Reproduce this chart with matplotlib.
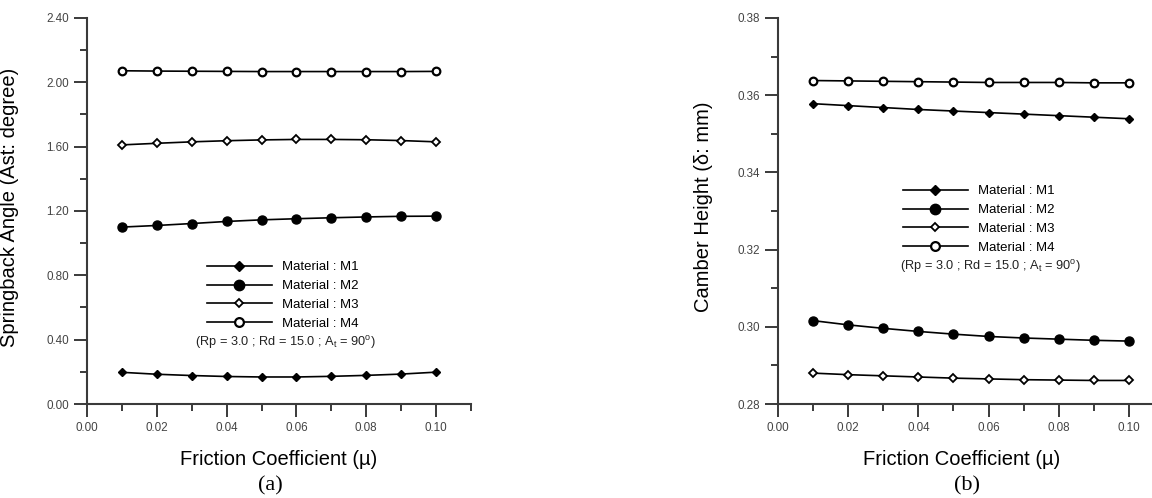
import matplotlib
matplotlib.use("Agg")
import matplotlib.pyplot as plt
from matplotlib.ticker import MultipleLocator, FormatStrFormatter

plt.rcParams['font.family'] = ['Liberation Sans', 'DejaVu Sans']
plt.rcParams['mathtext.fontset'] = 'custom'
plt.rcParams['mathtext.rm'] = 'Liberation Sans'
plt.rcParams['mathtext.it'] = 'Liberation Sans:italic'

# friction coefficient
mu = [0.01, 0.02, 0.03, 0.04, 0.05, 0.06, 0.07, 0.08, 0.09, 0.10]

# (a) springback angle (degree)
spring_m1 = [0.197, 0.185, 0.177, 0.171, 0.168, 0.168, 0.172, 0.178, 0.186, 0.198]
spring_m2 = [1.100, 1.110, 1.122, 1.135, 1.145, 1.152, 1.158, 1.163, 1.167, 1.168]
spring_m3 = [1.611, 1.621, 1.630, 1.637, 1.642, 1.645, 1.645, 1.643, 1.638, 1.630]
spring_m4 = [2.072, 2.070, 2.069, 2.068, 2.067, 2.067, 2.067, 2.067, 2.067, 2.068]

# (b) camber height (mm)
camber_m1 = [0.3578, 0.3573, 0.3568, 0.3563, 0.3559, 0.3555, 0.3551, 0.3547, 0.3543, 0.3539]
camber_m2 = [0.3016, 0.3005, 0.2996, 0.2988, 0.2981, 0.2975, 0.2971, 0.2968, 0.2965, 0.2963]
camber_m3 = [0.2880, 0.2876, 0.2873, 0.2870, 0.2867, 0.2865, 0.2863, 0.2862, 0.2861, 0.2861]
camber_m4 = [0.3638, 0.3637, 0.3636, 0.3635, 0.3634, 0.3633, 0.3633, 0.3633, 0.3632, 0.3632]

labels = ["Material : M1", "Material : M2", "Material : M3", "Material : M4"]
note = r"(Rp = 3.0 ; Rd = 15.0 ; A$_\mathrm{t}$ = 90$^\mathrm{o}$)"

# marker styles for M1..M4
styles = [
    dict(marker="D", markersize=4.5, markerfacecolor="black", markeredgecolor="black"),
    dict(marker="o", markersize=6.5, markerfacecolor="black", markeredgecolor="black"),
    dict(marker="D", markersize=3.8, markerfacecolor="white", markeredgecolor="black", markeredgewidth=1.3),
    dict(marker="o", markersize=5.5, markerfacecolor="white", markeredgecolor="black", markeredgewidth=1.6),
]

axcol = "#3a3a3a"


def style_axis(ax, ymajor, yfmt):
    for s in ["top", "right"]:
        ax.spines[s].set_visible(False)
    for s in ["left", "bottom"]:
        ax.spines[s].set_linewidth(1.5)
        ax.spines[s].set_color(axcol)
    ax.xaxis.set_major_locator(MultipleLocator(0.02))
    ax.xaxis.set_minor_locator(MultipleLocator(0.01))
    ax.xaxis.set_major_formatter(FormatStrFormatter("%.2f"))
    ax.yaxis.set_major_locator(MultipleLocator(ymajor))
    ax.yaxis.set_minor_locator(MultipleLocator(ymajor / 2))
    ax.yaxis.set_major_formatter(FormatStrFormatter(yfmt))
    ax.tick_params(which="major", length=9.5, width=1.4, color=axcol, labelsize=8.4,
                   labelcolor="#444444", pad=3.5)
    ax.tick_params(which="minor", length=5, width=1.4, color=axcol)


fig = plt.figure(figsize=(11.52, 4.98), dpi=100)

# ---- (a) springback angle
ax1 = fig.add_axes([87 / 1152, 1 - 404 / 498, 384 / 1152, 386 / 498])
for y, st, lab in zip([spring_m1, spring_m2, spring_m3, spring_m4], styles, labels):
    ax1.plot(mu, y, color="black", linewidth=1.2, label=lab, **st)
ax1.set_xlim(0, 0.11)
ax1.set_ylim(0, 2.4)
style_axis(ax1, 0.4, "%.2f")
ax1.set_xlabel("Friction Coefficient (\u00b5)", size=14.5)
ax1.xaxis.set_label_coords(0.5, -0.12)
ax1.set_ylabel("Springback Angle (Ast: degree)", size=14.5)
ax1.yaxis.set_label_coords(-0.178, 0.51)
ax1.legend(loc="upper left", bbox_to_anchor=(0.3125, 0.370), frameon=False, fontsize=9.5,
           handlelength=4.9, handletextpad=0.8, labelspacing=0.5, borderpad=0,
           borderaxespad=0, markerscale=1.15)
ax1.text(0.516, 0.16, note, transform=ax1.transAxes, ha="center", va="center", fontsize=9.2,
         color="#222222")

# ---- (b) camber height
ax2 = fig.add_axes([778 / 1152, 1 - 404 / 498, 374 / 1152, 386 / 498])
for y, st, lab in zip([camber_m1, camber_m2, camber_m3, camber_m4], styles, labels):
    ax2.plot(mu, y, color="black", linewidth=1.2, label=lab, **st)
ax2.set_xlim(0, 0.1066)
ax2.set_ylim(0.28, 0.38)
style_axis(ax2, 0.02, "%.2f")
ax2.set_xlabel("Friction Coefficient (\u00b5)", size=14.5)
ax2.xaxis.set_label_coords(0.492, -0.12)
ax2.set_ylabel("Camber Height (\u03b4: mm)", size=14.5)
ax2.yaxis.set_label_coords(-0.174, 0.51)
ax2.legend(loc="upper left", bbox_to_anchor=(0.334, 0.567), frameon=False, fontsize=9.5,
           handlelength=4.9, handletextpad=0.8, labelspacing=0.5, borderpad=0,
           borderaxespad=0, markerscale=1.15)
ax2.text(0.567, 0.355, note, transform=ax2.transAxes, ha="center", va="center", fontsize=9.2,
         color="#222222")

fig.text(270 / 1152, 1 - 486 / 498, "(a)", family="Liberation Serif", size=16,
         ha="center", va="center")
fig.text(967 / 1152, 1 - 486 / 498, "(b)", family="Liberation Serif", size=16,
         ha="center", va="center")

fig.savefig("out.png", dpi=100)
plt.close(fig)
